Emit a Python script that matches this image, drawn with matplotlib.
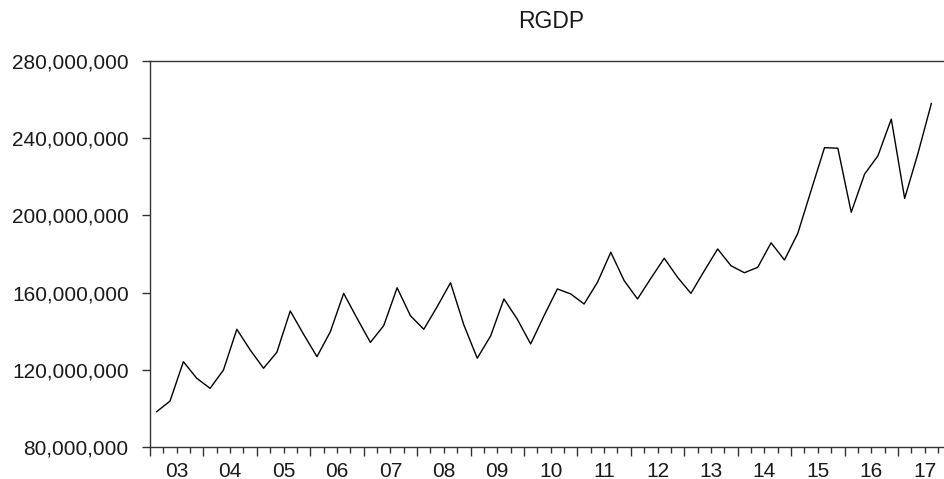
import numpy as np
import matplotlib
matplotlib.use('Agg')
import matplotlib.pyplot as plt
from matplotlib.ticker import FixedLocator, FuncFormatter

plt.rcParams['font.family'] = ['Liberation Sans', 'DejaVu Sans']

# quarterly real GDP, 2003Q1 .. 2017Q3
START_YEAR = 2003
rgdp = [
    98.3, 103.8, 124.2, 115.6, 110.4, 119.9, 141.0, 130.3,
    120.8, 129.1, 150.5, 138.4, 126.8, 139.7, 159.6, 146.7,
    134.2, 142.9, 162.5, 148.0, 141.0, 152.7, 165.1, 143.2,
    126.0, 137.5, 156.7, 146.2, 133.4, 148.0, 161.9, 159.3,
    154.1, 165.3, 180.9, 166.2, 156.7, 167.4, 177.8, 167.9,
    159.6, 171.3, 182.6, 173.9, 170.3, 173.1, 185.8, 176.9,
    190.7, 213.0, 235.1, 234.8, 201.6, 221.4, 230.9, 249.9,
    208.8, 232.2, 258.0,
]
rgdp = np.array(rgdp) * 1e6
year_labels = ['03', '04', '05', '06', '07', '08', '09', '10',
               '11', '12', '13', '14', '15', '16', '17']
y_ticks = [80e6, 120e6, 160e6, 200e6, 240e6, 280e6]

# each quarter is plotted in the middle of its interval
t = START_YEAR + (np.arange(len(rgdp)) + 0.5) / 4.0
end_year = START_YEAR + len(year_labels)

fig = plt.figure(figsize=(9.44, 4.79), dpi=100)
ax = fig.add_axes([150 / 944, 32 / 479, 801.4 / 944, 386 / 479])

ax.plot(t, rgdp, color='black', lw=1.0)

ax.set_xlim(START_YEAR, end_year)
ax.set_ylim(y_ticks[0], y_ticks[-1])

# long ticks at year boundaries, short ones every quarter,
# year label sits on the mid-year quarter tick
years = np.arange(START_YEAR, end_year + 1)
quarters = [y + q / 4.0 for y in range(START_YEAR, end_year) for q in (1, 2, 3)]
ax.xaxis.set_major_locator(FixedLocator(years))
ax.xaxis.set_minor_locator(FixedLocator(quarters))
ax.xaxis.set_major_formatter(FuncFormatter(lambda v, p: ''))

def mid_year_label(v, pos):
    frac = v - np.floor(v)
    if abs(frac - 0.5) < 1e-6:
        idx = int(np.floor(v)) - START_YEAR
        if 0 <= idx < len(year_labels):
            return year_labels[idx]
    return ''

ax.xaxis.set_minor_formatter(FuncFormatter(mid_year_label))

ax.set_yticks(y_ticks)
ax.yaxis.set_major_formatter(FuncFormatter(lambda v, p: f'{v:,.0f}'))

txt_color = '#1a1a1a'
ax.tick_params(axis='x', which='major', direction='out', length=6.2, width=1.0,
               color='#333333')
ax.tick_params(axis='x', which='minor', direction='out', length=4.0, width=1.0,
               color='#333333', labelsize=15, labelcolor=txt_color, pad=6.5)
ax.tick_params(axis='y', which='major', direction='out', length=5.8, width=1.0,
               color='#333333', labelsize=15, labelcolor=txt_color, pad=9.5)

for side in ('left', 'bottom', 'top', 'right'):
    ax.spines[side].set_color('#333333')
    ax.spines[side].set_linewidth(1.0)

fig.text(551 / 944, 1 - 21 / 479, 'RGDP', ha='center', va='center',
         fontsize=16.5, color=txt_color)

fig.savefig('out.png', dpi=100)
